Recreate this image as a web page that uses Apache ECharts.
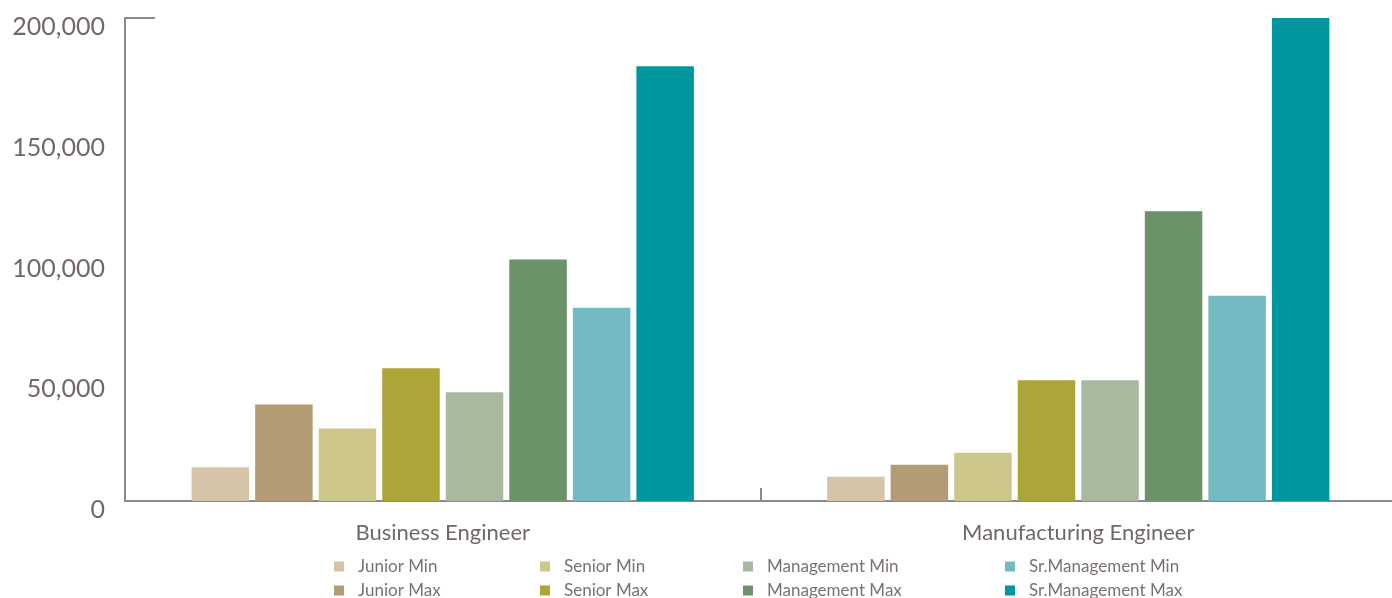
<!DOCTYPE html>
<html>
<head>
<meta charset="utf-8">
<script src="https://cdn.jsdelivr.net/npm/echarts@6/dist/echarts.min.js"></script>
<style>
  html, body { margin: 0; padding: 0; background: #fff; }
  #chart { width: 1392px; height: 598px; }
</style>
</head>
<body>
<div id="chart"></div>
<script>
// 数据
var categories = ['Business Engineer', 'Manufacturing Engineer'];
var seriesNames = ['Junior Min', 'Junior Max', 'Senior Min', 'Senior Max',
                   'Management Min', 'Management Max', 'Sr.Management Min', 'Sr.Management Max'];
var juniorMin = [14000, 10000];
var juniorMax = [40000, 15000];
var seniorMin = [30000, 20000];
var seniorMax = [55000, 50000];
var managementMin = [45000, 50000];
var managementMax = [100000, 120000];
var srManagementMin = [80000, 85000];
var srManagementMax = [180000, 200000];
var yTicks = [0, 50000, 100000, 150000, 200000];

var colors = ['#d5c4a7', '#b39b73', '#cdc78b', '#aca537',
              '#a8b9a0', '#6b9268', '#73bac2', '#00969d'];

var allData = [juniorMin, juniorMax, seniorMin, seniorMax,
               managementMin, managementMax, srManagementMin, srManagementMax];

var chart = echarts.init(document.getElementById('chart'));

var series = seriesNames.map(function (name, i) {
    return {
        name: name,
        type: 'bar',
        data: allData[i],
        barWidth: 57.5,
        barGap: '10.5%',
        itemStyle: { color: colors[i] }
    };
});

// 图例：四列，每列两行
var legendLeft = [334, 540, 743, 1005];
var legends = [0, 1, 2, 3].map(function (c) {
    return {
        orient: 'vertical',
        left: legendLeft[c],
        top: 558,
        height: 80,
        padding: 0,
        itemWidth: 10,
        itemHeight: 10,
        itemGap: 7,
        icon: 'rect',
        data: [seriesNames[c * 2], seriesNames[c * 2 + 1]],
        textStyle: { fontFamily: 'Lato', fontSize: 17, lineHeight: 17, color: '#7a7270', padding: [0, 0, 0, 9] }
    };
});

var option = {
    animation: false,
    color: colors,
    legend: legends,
    grid: { left: 125, width: 1271, top: 18, bottom: 97, outerBoundsMode: 'none' },
    xAxis: {
        type: 'category',
        data: categories,
        axisLine: { lineStyle: { color: '#8a8a8a', width: 2 } },
        axisTick: { show: true, interval: 0, inside: true, length: 13, lineStyle: { color: '#8a8a8a', width: 2 } },
        axisLabel: { margin: 21, fontFamily: 'Lato', fontSize: 22, color: '#6f6866' }
    },
    yAxis: [{
        type: 'value',
        min: yTicks[0],
        max: yTicks[yTicks.length - 1],
        interval: 50000,
        axisLine: { show: true, lineStyle: { color: '#8a8a8a', width: 2 } },
        axisTick: { show: false },
        splitLine: { show: false },
        axisLabel: {
            margin: 20,
            fontFamily: 'Lato',
            fontSize: 25,
            color: '#6f6866',
            verticalAlign: 'top',
            lineHeight: 18,
            formatter: function (v) { return v.toLocaleString('en-US'); }
        }
    }, {
        type: 'value',
        position: 'left',
        min: 0,
        max: 200000,
        interval: 200000,
        axisLine: { show: false },
        axisLabel: { show: false },
        splitLine: { show: false },
        axisTick: { show: true, inside: true, length: 30, lineStyle: { color: '#8a8a8a', width: 2 } }
    }],
    series: series
};

chart.setOption(option);
</script>
</body>
</html>
